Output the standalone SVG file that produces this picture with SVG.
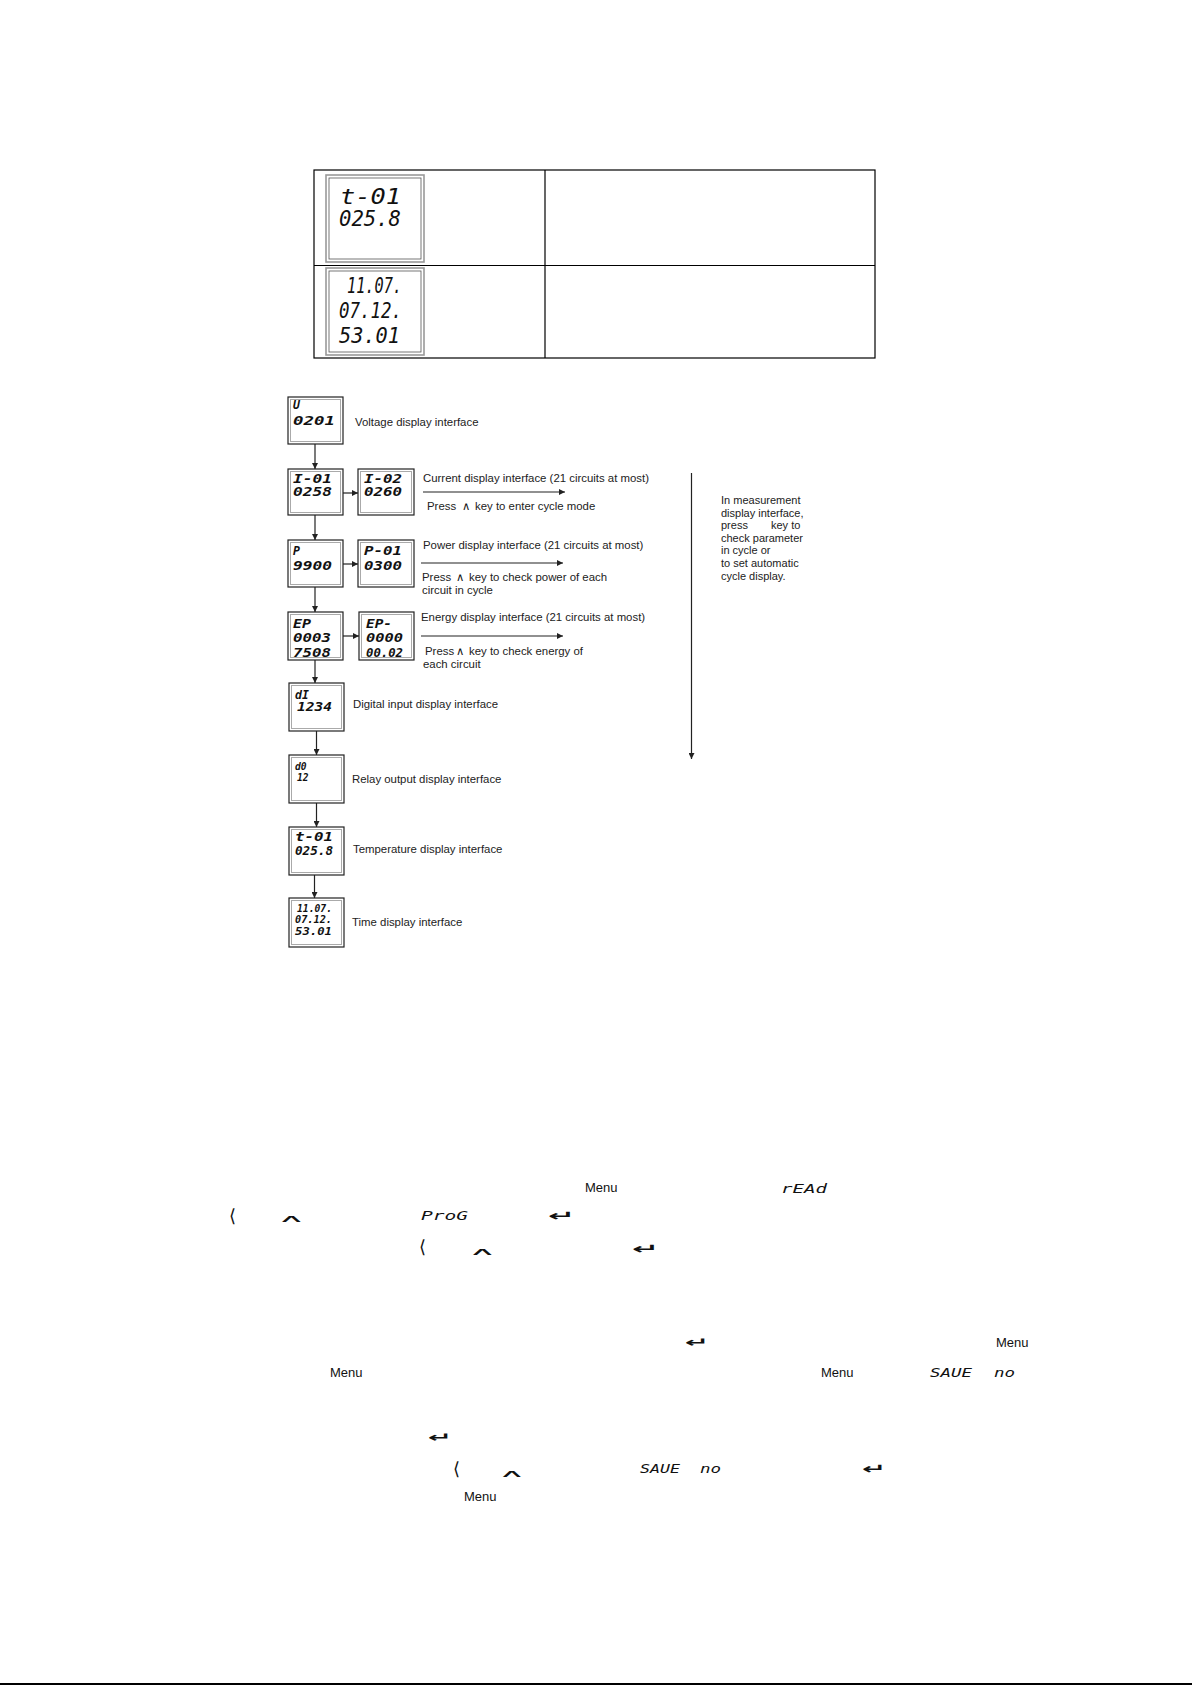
<svg xmlns="http://www.w3.org/2000/svg" width="1192" height="1685" viewBox="0 0 1192 1685">
<style>
.lbl{font-family:"Liberation Sans",Arial,sans-serif;font-size:11.4px;fill:#222}
.note{font-family:"Liberation Sans",Arial,sans-serif;font-size:11px;fill:#222}
.seg{font-family:"DejaVu Sans Mono",monospace;font-style:italic;fill:#111}
.big{font-size:21px}
.sm{font-size:11.5px;font-weight:bold}
.xs{font-size:9.6px;font-weight:bold}
.bot{font-size:12px}
.menu{font-family:"Liberation Sans",Arial,sans-serif;font-size:13px;fill:#111}
.sym{font-family:"DejaVu Sans",sans-serif;fill:#111}
.frame{fill:#fff;stroke:#222;stroke-width:1.2}
.inner{fill:none;stroke:#aaa;stroke-width:1}
.dframe{fill:#fff;stroke:#999;stroke-width:1.6}
.dinner{fill:none;stroke:#555;stroke-width:0.8}
.tline{stroke:#000;stroke-width:1.2;fill:none}
.con{stroke:#222;stroke-width:1.2;fill:none}
</style>
<defs>
<marker id="ah" markerUnits="userSpaceOnUse" markerWidth="6" markerHeight="6" viewBox="0 0 6 6" refX="6" refY="3" orient="auto">
<path d="M0,0 L6,3 L0,6 z" fill="#222"/>
</marker>
</defs>
<rect width="1192" height="1685" fill="#fff"/>

<g id="table">
<rect class="tline" x="314" y="170" width="561" height="188"/>
<line class="tline" x1="314" y1="265.5" x2="875" y2="265.5"/>
<line class="tline" x1="545" y1="170" x2="545" y2="358"/>
<rect class="dframe" x="326" y="175" width="98" height="87"/>
<rect class="dinner" x="329" y="178" width="92" height="81"/>
<text class="seg big" x="340" y="204" textLength="61" lengthAdjust="spacingAndGlyphs">t-01</text>
<text class="seg big" x="339" y="226" textLength="62" lengthAdjust="spacingAndGlyphs">025.8</text>
<rect class="dframe" x="326" y="268" width="98" height="87"/>
<rect class="dinner" x="329" y="271" width="92" height="81"/>
<text class="seg big" x="347" y="293" textLength="55" lengthAdjust="spacingAndGlyphs">11.07.</text>
<text class="seg big" x="339" y="318" textLength="63" lengthAdjust="spacingAndGlyphs">07.12.</text>
<text class="seg big" x="339" y="343" textLength="61" lengthAdjust="spacingAndGlyphs">53.01</text>
</g>

<g id="connectors">
<line class="con" x1="315" y1="444" x2="315" y2="469" marker-end="url(#ah)"/>
<line class="con" x1="343" y1="493" x2="358" y2="493" marker-end="url(#ah)"/>
<line class="con" x1="423" y1="492" x2="565" y2="492" marker-end="url(#ah)"/>
<line class="con" x1="315" y1="515" x2="315" y2="540" marker-end="url(#ah)"/>
<line class="con" x1="343" y1="564" x2="358" y2="564" marker-end="url(#ah)"/>
<line class="con" x1="421" y1="563" x2="563" y2="563" marker-end="url(#ah)"/>
<line class="con" x1="315" y1="587" x2="315" y2="612" marker-end="url(#ah)"/>
<line class="con" x1="343" y1="636" x2="359" y2="636" marker-end="url(#ah)"/>
<line class="con" x1="421" y1="636" x2="563" y2="636" marker-end="url(#ah)"/>
<line class="con" x1="315" y1="660" x2="315" y2="683" marker-end="url(#ah)"/>
<line class="con" x1="316.5" y1="731" x2="316.5" y2="755" marker-end="url(#ah)"/>
<line class="con" x1="316.5" y1="803" x2="316.5" y2="827" marker-end="url(#ah)"/>
<line class="con" x1="314.5" y1="875" x2="314.5" y2="898" marker-end="url(#ah)"/>
<line class="con" x1="691.5" y1="473" x2="691.5" y2="759" marker-end="url(#ah)"/>
</g>

<g id="node-U">
<rect class="frame" x="288" y="397" width="55" height="47"/>
<rect class="inner" x="290.5" y="399.5" width="50" height="42"/>
<text class="seg sm" x="293" y="409">U</text>
<text class="seg sm" x="293" y="425" textLength="42" lengthAdjust="spacingAndGlyphs">0201</text>
<text class="lbl" x="355" y="426">Voltage display interface</text>
</g>

<g id="node-I01">
<rect class="frame" x="288" y="469" width="55" height="46"/>
<rect class="inner" x="290.5" y="471.5" width="50" height="41"/>
<text class="seg sm" x="293" y="483" textLength="39" lengthAdjust="spacingAndGlyphs">I-01</text>
<text class="seg sm" x="293" y="496" textLength="39" lengthAdjust="spacingAndGlyphs">0258</text>
</g>
<g id="node-I02">
<rect class="frame" x="358" y="469" width="56" height="46"/>
<rect class="inner" x="360.5" y="471.5" width="51" height="41"/>
<text class="seg sm" x="364" y="483" textLength="38" lengthAdjust="spacingAndGlyphs">I-02</text>
<text class="seg sm" x="364" y="496" textLength="38" lengthAdjust="spacingAndGlyphs">0260</text>
<text class="lbl" x="423" y="482">Current display interface (21 circuits at most)</text>
<text class="lbl" y="510"><tspan x="427">Press</tspan><tspan class="sym" x="462">∧</tspan><tspan x="475">key to enter cycle mode</tspan></text>
</g>

<g id="node-P">
<rect class="frame" x="288" y="540" width="55" height="47"/>
<rect class="inner" x="290.5" y="542.5" width="50" height="42"/>
<text class="seg sm" x="293" y="555">P</text>
<text class="seg sm" x="293" y="570" textLength="39" lengthAdjust="spacingAndGlyphs">9900</text>
</g>
<g id="node-P01">
<rect class="frame" x="358" y="540" width="56" height="47"/>
<rect class="inner" x="360.5" y="542.5" width="51" height="42"/>
<text class="seg sm" x="364" y="555" textLength="38" lengthAdjust="spacingAndGlyphs">P-01</text>
<text class="seg sm" x="364" y="570" textLength="38" lengthAdjust="spacingAndGlyphs">0300</text>
<text class="lbl" x="423" y="549">Power display interface (21 circuits at most)</text>
<text class="lbl" y="581"><tspan x="422">Press</tspan><tspan class="sym" x="456">∧</tspan><tspan x="469">key to check power of each</tspan></text>
<text class="lbl" x="422" y="594">circuit in cycle</text>
</g>

<g id="node-EP">
<rect class="frame" x="288" y="612" width="55" height="48"/>
<rect class="inner" x="290.5" y="614.5" width="50" height="43"/>
<text class="seg sm" x="293" y="628" textLength="18" lengthAdjust="spacingAndGlyphs">EP</text>
<text class="seg sm" x="293" y="642" textLength="38" lengthAdjust="spacingAndGlyphs">0003</text>
<text class="seg sm" x="293" y="657" textLength="38" lengthAdjust="spacingAndGlyphs">7508</text>
</g>
<g id="node-EPm">
<rect class="frame" x="359" y="612" width="55" height="48"/>
<rect class="inner" x="361.5" y="614.5" width="50" height="43"/>
<text class="seg sm" x="366" y="628" textLength="26" lengthAdjust="spacingAndGlyphs">EP-</text>
<text class="seg sm" x="366" y="642" textLength="37" lengthAdjust="spacingAndGlyphs">0000</text>
<text class="seg sm" x="366" y="657" textLength="37" lengthAdjust="spacingAndGlyphs">00.02</text>
<text class="lbl" x="421" y="621">Energy display interface (21 circuits at most)</text>
<text class="lbl" y="655"><tspan x="425">Press</tspan><tspan class="sym" x="456">∧</tspan><tspan x="469">key to check energy of</tspan></text>
<text class="lbl" x="423" y="668">each circuit</text>
</g>

<g id="node-dI">
<rect class="frame" x="289" y="683" width="55" height="48"/>
<rect class="inner" x="291.5" y="685.5" width="50" height="43"/>
<text class="seg sm" x="295" y="699">dI</text>
<text class="seg sm" x="297" y="711" textLength="35" lengthAdjust="spacingAndGlyphs">1234</text>
<text class="lbl" x="353" y="708">Digital input display interface</text>
</g>

<g id="node-dO">
<rect class="frame" x="289" y="755" width="55" height="48"/>
<rect class="inner" x="291.5" y="757.5" width="50" height="43"/>
<text class="seg xs" x="295" y="770">d0</text>
<text class="seg xs" x="297" y="781">12</text>
<text class="lbl" x="352" y="783">Relay output display interface</text>
</g>

<g id="node-t01">
<rect class="frame" x="289" y="827" width="55" height="48"/>
<rect class="inner" x="291.5" y="829.5" width="50" height="43"/>
<text class="seg sm" x="295" y="841" textLength="38" lengthAdjust="spacingAndGlyphs">t-01</text>
<text class="seg sm" x="295" y="855" textLength="38" lengthAdjust="spacingAndGlyphs">025.8</text>
<text class="lbl" x="353" y="853">Temperature display interface</text>
</g>

<g id="node-time">
<rect class="frame" x="289" y="898" width="55" height="49"/>
<rect class="inner" x="291.5" y="900.5" width="50" height="44"/>
<text class="seg xs" x="297" y="912" textLength="35" lengthAdjust="spacingAndGlyphs">11.07.</text>
<text class="seg xs" x="295" y="923" textLength="37" lengthAdjust="spacingAndGlyphs">07.12.</text>
<text class="seg xs" x="295" y="935" textLength="37" lengthAdjust="spacingAndGlyphs">53.01</text>
<text class="lbl" x="352" y="926">Time display interface</text>
</g>

<g id="note">
<text class="note" x="721" y="504">In measurement</text>
<text class="note" x="721" y="516.6">display interface,</text>
<text class="note" x="721" y="529.2"><tspan>press</tspan><tspan x="771">key to</tspan></text>
<text class="note" x="721" y="541.8">check parameter</text>
<text class="note" x="721" y="554.4">in cycle or</text>
<text class="note" x="721" y="567">to set automatic</text>
<text class="note" x="721" y="579.6">cycle display.</text>
</g>

<g id="keys">
<text class="menu" x="585" y="1192">Menu</text>
<text class="seg bot" x="781" y="1193" textLength="46" lengthAdjust="spacingAndGlyphs">rEAd</text>
<text class="sym" x="229" y="1222" font-size="18">⟨</text>
<text class="sym" transform="translate(277,1222) scale(2.8,0.75)" font-size="14">∧</text>
<text class="seg bot" x="421" y="1220" textLength="47" lengthAdjust="spacingAndGlyphs">ProG</text>
<text class="sym" transform="translate(548,1221) scale(1.8,0.8)" font-size="18" font-weight="bold">↵</text>

<text class="sym" x="419" y="1253" font-size="18">⟨</text>
<text class="sym" transform="translate(468,1255) scale(2.8,0.75)" font-size="14">∧</text>
<text class="sym" transform="translate(632,1254) scale(1.8,0.8)" font-size="18" font-weight="bold">↵</text>

<text class="sym" transform="translate(685,1347) scale(1.7,0.8)" font-size="17" font-weight="bold">↵</text>
<text class="menu" x="996" y="1347">Menu</text>
<text class="menu" x="330" y="1377">Menu</text>
<text class="menu" x="821" y="1377">Menu</text>
<text class="seg bot" x="930" y="1377" textLength="42" lengthAdjust="spacingAndGlyphs">SAUE</text>
<text class="seg bot" x="994" y="1377" textLength="21" lengthAdjust="spacingAndGlyphs">no</text>

<text class="sym" transform="translate(428,1442) scale(1.7,0.8)" font-size="17" font-weight="bold">↵</text>
<text class="sym" x="453" y="1475" font-size="18">⟨</text>
<text class="sym" transform="translate(498,1477) scale(2.7,0.75)" font-size="14">∧</text>
<text class="seg bot" x="640" y="1473" textLength="40" lengthAdjust="spacingAndGlyphs">SAUE</text>
<text class="seg bot" x="700" y="1473" textLength="21" lengthAdjust="spacingAndGlyphs">no</text>
<text class="sym" transform="translate(862,1474) scale(1.7,0.85)" font-size="17" font-weight="bold">↵</text>
<text class="menu" x="464" y="1501">Menu</text>
</g>

<line x1="0" y1="1684" x2="1192" y2="1684" stroke="#000" stroke-width="2"/>
</svg>
